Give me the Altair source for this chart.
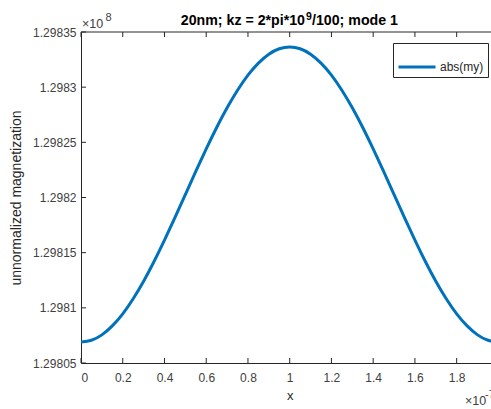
import altair as alt
import pandas as pd

# x in units of 1e-7, y in units of 1e8
x_vals = [0.0, 0.05, 0.1, 0.15, 0.2, 0.25, 0.3, 0.35, 0.4, 0.45, 0.5,
          0.55, 0.6, 0.65, 0.7, 0.75, 0.8, 0.85, 0.9, 0.95, 1.0,
          1.05, 1.1, 1.15, 1.2, 1.25, 1.3, 1.35, 1.4, 1.45, 1.5,
          1.55, 1.6, 1.65, 1.7, 1.75, 1.8, 1.85, 1.9, 1.95, 2.0]
y_vals = [1.2980690, 1.2980706, 1.2980755, 1.2980836, 1.2980945, 1.2981082,
          1.2981241, 1.2981420, 1.2981614, 1.2981818, 1.2982027,
          1.2982236, 1.2982440, 1.2982634, 1.2982813, 1.2982972,
          1.2983109, 1.2983218, 1.2983299, 1.2983348, 1.2983364,
          1.2983348, 1.2983299, 1.2983218, 1.2983109, 1.2982972,
          1.2982813, 1.2982634, 1.2982440, 1.2982236, 1.2982027,
          1.2981818, 1.2981614, 1.2981420, 1.2981241, 1.2981082,
          1.2980945, 1.2980836, 1.2980755, 1.2980706, 1.2980690]
series_name = ["abs(my)"] * len(x_vals)

x_ticks = [0, 0.2, 0.4, 0.6, 0.8, 1.0, 1.2, 1.4, 1.6, 1.8]
y_ticks = [1.29805, 1.2981, 1.29815, 1.2982, 1.29825, 1.2983, 1.29835]

title_parts = ["20nm; kz = 2*pi*10", "9", "/100; mode 1"]
y_exponent = ["×10", "8"]
x_exponent = ["×10", "-7"]

W, H = 410, 331
X_DOMAIN = [0, 1.9645]
Y_DOMAIN = [1.29805, 1.29835]
FONT = "Liberation Sans"
BLUE = "#0072BD"
AX = "#262626"
GRAY = "#404040"

df = pd.DataFrame({"x": x_vals, "y": y_vals, "s": series_name})
xt = pd.DataFrame({"x": x_ticks})
yt = pd.DataFrame({"y": y_ticks})
one = pd.DataFrame({
    "t0": [title_parts[0]], "t1": [title_parts[1]], "t2": [title_parts[2]],
    "ye0": [y_exponent[0]], "ye1": [y_exponent[1]],
    "xe0": [x_exponent[0]], "xe1": [x_exponent[1]],
})

xscale = alt.Scale(domain=X_DOMAIN, nice=False, zero=False)
yscale = alt.Scale(domain=Y_DOMAIN, nice=False, zero=False)

xaxis = alt.Axis(values=x_ticks, title="x", format="~g", ticks=False,
                 grid=False, domainColor=AX, labelColor=GRAY,
                 labelFontSize=12, labelFont=FONT, labelPadding=9,
                 titleFont=FONT, titleFontSize=13, titleFontWeight="normal",
                 titleColor=AX, titleX=208.7, titlePadding=6)
yaxis = alt.Axis(values=y_ticks, title="unnormalized magnetization",
                 format=".6~g", ticks=False, grid=False, domainColor=AX,
                 labelColor=GRAY, labelFontSize=12, labelFont=FONT,
                 labelPadding=5, titleFont=FONT, titleFontSize=14,
                 titleFontWeight="normal", titleColor=AX, titlePadding=9)

line = alt.Chart(df).mark_line(strokeWidth=3, clip=True, interpolate="natural").encode(
    x=alt.X("x:Q", scale=xscale, axis=xaxis),
    y=alt.Y("y:Q", scale=yscale, axis=yaxis),
    color=alt.Color("s:N", scale=alt.Scale(range=[BLUE]),
                    legend=alt.Legend(title=None, orient="none", legendX=312,
                                      legendY=11, strokeColor=AX, fillColor="white",
                                      padding=4, symbolType="stroke",
                                      symbolSize=1369, symbolStrokeWidth=3,
                                      labelFontSize=12, labelFont=FONT,
                                      labelColor=AX, labelOffset=3)),
)

xtick_bottom = alt.Chart(xt).mark_rule(color=AX, strokeWidth=1).encode(
    x=alt.X("x:Q", scale=xscale, axis=xaxis), y=alt.value(H), y2=alt.value(H - 5))
xtick_top = alt.Chart(xt).mark_rule(color=AX, strokeWidth=1).encode(
    x=alt.X("x:Q", scale=xscale, axis=xaxis), y=alt.value(0), y2=alt.value(5))
ytick_left = alt.Chart(yt).mark_rule(color=AX, strokeWidth=1).encode(
    y=alt.Y("y:Q", scale=yscale, axis=yaxis), x=alt.value(0), x2=alt.value(5))
top_border = alt.Chart(one).mark_rule(color=AX, strokeWidth=1).encode(
    x=alt.value(0), x2=alt.value(W), y=alt.value(0))


def label(field, x, y, size, align, color, weight="normal"):
    return alt.Chart(one).mark_text(font=FONT, fontSize=size, fontWeight=weight,
                                    color=color, align=align,
                                    baseline="alphabetic").encode(
        text=f"{field}:N", x=alt.value(x), y=alt.value(y))


title0 = label("t0", 224, -7, 14.2, "right", "black", "bold")
title1 = label("t1", 225, -12.5, 10.5, "left", "black", "bold")
title2 = label("t2", 231, -7, 14.2, "left", "black", "bold")
ye0 = label("ye0", 1, -4, 12.5, "left", GRAY)
ye1 = label("ye1", 24.5, -11, 11, "left", GRAY)
xe0 = label("xe0", 384, 373, 12.5, "left", GRAY)
xe1 = label("xe1", 404, 366, 11, "left", GRAY)

chart = alt.layer(line, xtick_bottom, xtick_top, ytick_left, top_border,
                  title0, title1, title2, ye0, ye1, xe0, xe1).properties(
    width=W, height=H,
    autosize=alt.AutoSizeParams(type="none"),
    padding={"left": 81, "top": 32, "right": 0, "bottom": 46},
    background="white",
).configure_view(stroke=None)

chart.save("out.html", embed_options={"renderer": "svg", "actions": False})
